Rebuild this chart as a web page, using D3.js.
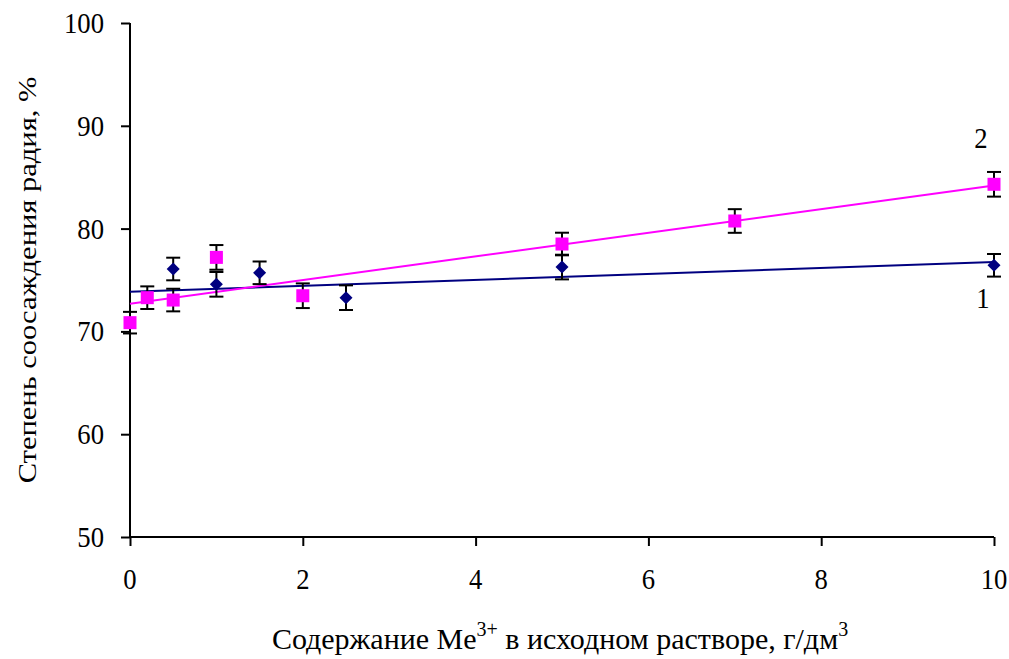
<!DOCTYPE html>
<html>
<head>
<meta charset="utf-8">
<script src="https://cdn.jsdelivr.net/npm/d3@7"></script>
<style>
  body { margin: 0; background: #fff; }
</style>
</head>
<body>
<div id="chart"></div>
<script>
// curve 1 (navy diamonds) and curve 2 (magenta squares)
const x1 = [0.5, 1, 1.5, 2.5, 5, 10];
const y1 = [76.07, 74.58, 75.7, 73.28, 76.26, 76.43];
const err1 = [1.1, 1.2, 1.1, 1.2, 1.2, 1.1];

const x2 = [0, 0.2, 0.5, 1, 2, 5, 7, 10];
const y2 = [70.85, 73.28, 73.05, 77.2, 73.47, 78.5, 80.74, 84.31];
const err2 = [1.05, 1.1, 1.1, 1.2, 1.2, 1.1, 1.15, 1.2];

// trend lines, at x = 0 and x = 10
const trendX = [0, 10];
const trend1 = [73.86, 76.75];
const trend2 = [72.7, 84.2];

const xTicks = [0, 2, 4, 6, 8, 10];
const yTicks = [50, 60, 70, 80, 90, 100];

const width = 1009, height = 659;
const margin = {left: 130, right: 15, top: 23, bottom: 122};
const sx = 0.89; // glyphs in the original are narrower than they are tall
const serif = "Liberation Serif, Times New Roman, Times, DejaVu Serif, Noto Serif, serif";

const svg = d3.select("#chart").append("svg")
  .attr("width", width)
  .attr("height", height)
  .style("font-family", serif);

const x = d3.scaleLinear().domain([0, 10]).range([margin.left, width - margin.right]);
const y = d3.scaleLinear().domain([50, 100]).range([height - margin.bottom, margin.top]);

const label = (g, tx, ty, str, anchor) => g.append("text")
  .attr("transform", `translate(${tx},${ty}) scale(${sx},1)`)
  .attr("text-anchor", anchor || "middle")
  .style("font-family", serif)
  .style("font-size", "30px")
  .text(str);

// axes
const yAxis = svg.append("g")
  .attr("transform", `translate(${x(0)},0)`)
  .call(d3.axisLeft(y).tickValues(yTicks).tickSize(9).tickFormat(""));
const xAxis = svg.append("g")
  .attr("transform", `translate(0,${y(50)})`)
  .call(d3.axisBottom(x).tickValues(xTicks).tickSize(9).tickFormat(""));
[xAxis, yAxis].forEach(a => {
  a.select(".domain").attr("stroke", "#000").attr("stroke-width", 2)
    .attr("d", a === xAxis ? `M${x(0)},0H${x(10)}` : `M0,${y(50)}V${y(100)}`);
  a.selectAll(".tick line").attr("stroke", "#000").attr("stroke-width", 2);
});

yTicks.forEach(v => label(svg, 104, y(v) + 10, v, "end"));
xTicks.forEach(v => label(svg, x(v), 589, v));

// axis titles
svg.append("text")
  .attr("transform", `translate(36,280) rotate(-90) scale(1.09,0.92)`)
  .attr("text-anchor", "middle")
  .style("font-family", serif)
  .style("font-size", "28px")
  .text("Степень соосаждения радия, %");

const xt = svg.append("text")
  .attr("transform", `translate(560,649) scale(1,1)`)
  .attr("text-anchor", "middle")
  .style("font-family", serif)
  .style("font-size", "30px");
xt.append("tspan").text("Содержание Me");
xt.append("tspan").attr("dy", -13).style("font-size", "20px").text("3+");
xt.append("tspan").attr("dy", 13).text(" в исходном растворе, г/дм");
xt.append("tspan").attr("dy", -13).style("font-size", "20px").text("3");

// trend lines
const line = d3.line().x(d => x(d[0])).y(d => y(d[1]));
svg.append("path").datum(d3.zip(trendX, trend1))
  .attr("d", line).attr("fill", "none").attr("stroke", "#000080").attr("stroke-width", 2);
svg.append("path").datum(d3.zip(trendX, trend2))
  .attr("d", line).attr("fill", "none").attr("stroke", "#ff00ff").attr("stroke-width", 2);

// error bars
const errBars = (xs, ys, es) => {
  const g = svg.append("g").attr("stroke", "#000").attr("stroke-width", 2);
  xs.forEach((xv, i) => {
    const cx = x(xv), top = y(ys[i] + es[i]), bot = y(ys[i] - es[i]);
    g.append("line").attr("x1", cx).attr("x2", cx).attr("y1", top).attr("y2", bot);
    g.append("line").attr("x1", cx - 7).attr("x2", cx + 7).attr("y1", top).attr("y2", top);
    g.append("line").attr("x1", cx - 7).attr("x2", cx + 7).attr("y1", bot).attr("y2", bot);
  });
};
errBars(x1, y1, err1);
errBars(x2, y2, err2);

// markers
svg.append("g").selectAll("path").data(d3.zip(x1, y1)).join("path")
  .attr("d", d => `M${x(d[0])},${y(d[1]) - 6.5}l6.5,6.5l-6.5,6.5l-6.5,-6.5z`)
  .attr("fill", "#000080");
svg.append("g").selectAll("rect").data(d3.zip(x2, y2)).join("rect")
  .attr("x", d => x(d[0]) - 6.5).attr("y", d => y(d[1]) - 6.5)
  .attr("width", 13).attr("height", 13)
  .attr("fill", "#ff00ff");

// curve numbers
label(svg, 981, 148, "2");
label(svg, 983, 308, "1");
</script>
</body>
</html>
